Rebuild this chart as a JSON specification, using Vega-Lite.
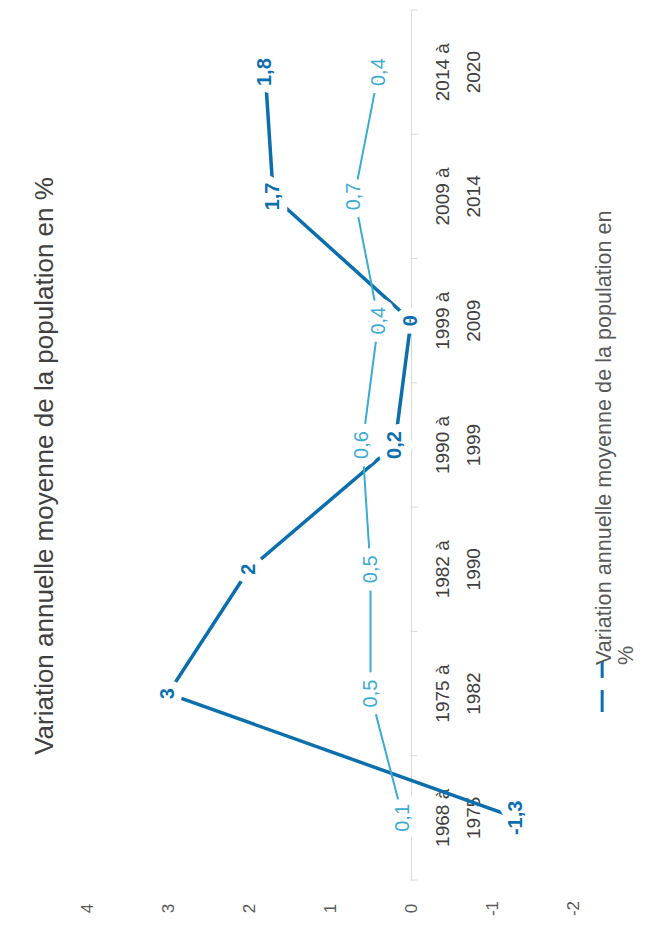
{
  "$schema": "https://vega.github.io/schema/vega-lite/v6.json",
  "autosize": {"type": "none"},
  "padding": {"left": 87, "top": 10, "right": 78, "bottom": 53},
  "width": 486,
  "height": 870,
  "background": "white",
  "config": {
    "view": {"stroke": null},
    "font": "Liberation Sans",
    "locale": {"number": {"decimal": ",", "thousands": " ", "grouping": [3], "currency": ["", " €"], "minus": "-"}},
    "axisX": {
      "orient": "bottom",
      "title": null,
      "domain": false,
      "ticks": false,
      "grid": false,
      "labelAngle": 270,
      "labelAlign": "center",
      "labelBaseline": "middle",
      "labelPadding": 28,
      "labelFontSize": 17,
      "labelColor": "#595959",
      "labelFlush": false,
      "labelOverlap": false
    },
    "axisY": {
      "orient": "right",
      "offset": -162,
      "title": null,
      "domain": true,
      "domainColor": "#d9d9d9",
      "domainWidth": 1,
      "ticks": false,
      "grid": false,
      "labelAngle": 270,
      "labelAlign": "center",
      "labelBaseline": "top",
      "labelPadding": 22,
      "labelFontSize": 19,
      "labelColor": "#404040",
      "labelLineHeight": 31,
      "labelOverlap": false
    }
  },
  "title": {
    "text": "Variation annuelle moyenne de la population en %",
    "orient": "left",
    "anchor": "middle",
    "offset": 20,
    "dx": -21,
    "fontSize": 26,
    "fontWeight": "normal",
    "color": "#404040"
  },
  "datasets": {
    "pop": [
      {"periode": "1968 à 1975", "serie": "Variation annuelle moyenne de la population en %", "valeur": -1.3},
      {"periode": "1975 à 1982", "serie": "Variation annuelle moyenne de la population en %", "valeur": 3},
      {"periode": "1982 à 1990", "serie": "Variation annuelle moyenne de la population en %", "valeur": 2},
      {"periode": "1990 à 1999", "serie": "Variation annuelle moyenne de la population en %", "valeur": 0.2},
      {"periode": "1999 à 2009", "serie": "Variation annuelle moyenne de la population en %", "valeur": 0},
      {"periode": "2009 à 2014", "serie": "Variation annuelle moyenne de la population en %", "valeur": 1.7},
      {"periode": "2014 à 2020", "serie": "Variation annuelle moyenne de la population en %", "valeur": 1.8},
      {"periode": "1968 à 1975", "serie": "Série 2", "valeur": 0.1},
      {"periode": "1975 à 1982", "serie": "Série 2", "valeur": 0.5},
      {"periode": "1982 à 1990", "serie": "Série 2", "valeur": 0.5},
      {"periode": "1990 à 1999", "serie": "Série 2", "valeur": 0.6},
      {"periode": "1999 à 2009", "serie": "Série 2", "valeur": 0.4},
      {"periode": "2009 à 2014", "serie": "Série 2", "valeur": 0.7},
      {"periode": "2014 à 2020", "serie": "Série 2", "valeur": 0.4}
    ],
    "legende": [
      {"texte": "Variation annuelle moyenne de la population en\n%", "periode": "1975 à 1982"}
    ]
  },
  "layer": [
    {
      "data": {"name": "pop"},
      "transform": [{"filter": "datum.serie === 'Série 2'"}],
      "encoding": {
        "x": {"datum": -0.037, "type": "quantitative", "axis": {"title": null, "values": [-2, -1, 0, 1, 2, 3, 4]}},
        "y": {
          "field": "periode",
          "type": "nominal",
          "sort": ["2014 à 2020", "2009 à 2014", "1999 à 2009", "1990 à 1999", "1982 à 1990", "1975 à 1982", "1968 à 1975"],
          "bandPosition": 0,
          "scale": {"type": "band", "paddingInner": 0, "paddingOuter": 0},
          "axis": {"title": null, "labelExpr": "[substring(datum.value, 0, 6), substring(datum.value, 7)]"}
        }
      },
      "layer": [
        {
          "mark": {"type": "point", "shape": "stroke", "size": 49, "filled": false, "strokeWidth": 1, "color": "#d9d9d9", "opacity": 1}
        },
        {
          "transform": [{"filter": "datum.periode === '1968 à 1975'"}],
          "mark": {"type": "point", "shape": "stroke", "size": 49, "filled": false, "strokeWidth": 1, "color": "#d9d9d9", "opacity": 1},
          "encoding": {
            "y": {
              "field": "periode",
              "type": "nominal",
              "sort": ["2014 à 2020", "2009 à 2014", "1999 à 2009", "1990 à 1999", "1982 à 1990", "1975 à 1982", "1968 à 1975"],
              "bandPosition": 1,
              "scale": {"type": "band", "paddingInner": 0, "paddingOuter": 0},
              "axis": {"title": null, "labelExpr": "[substring(datum.value, 0, 6), substring(datum.value, 7)]"}
            }
          }
        }
      ]
    },
    {
      "data": {"name": "pop"},
      "encoding": {
        "x": {
          "field": "valeur",
          "type": "quantitative",
          "scale": {"domain": [-2, 4], "reverse": true, "nice": false, "zero": false},
          "axis": {"title": null, "values": [-2, -1, 0, 1, 2, 3, 4]}
        },
        "y": {
          "field": "periode",
          "type": "nominal",
          "sort": ["2014 à 2020", "2009 à 2014", "1999 à 2009", "1990 à 1999", "1982 à 1990", "1975 à 1982", "1968 à 1975"],
          "bandPosition": 0.5,
          "scale": {"type": "band", "paddingInner": 0, "paddingOuter": 0},
          "axis": {"title": null, "labelExpr": "[substring(datum.value, 0, 6), substring(datum.value, 7)]"}
        }
      },
      "layer": [
        {
          "transform": [{"filter": "datum.serie !== 'Série 2'"}],
          "mark": {"type": "line", "color": "#0b6fae", "strokeWidth": 3.5}
        },
        {
          "transform": [{"filter": "datum.serie === 'Série 2'"}],
          "mark": {"type": "line", "color": "#3aabd2", "strokeWidth": 2}
        },
        {
          "mark": {"type": "text", "angle": 270, "fontSize": 20, "fontWeight": "bold", "fill": "white", "stroke": "white", "strokeWidth": 16, "strokeJoin": "round"},
          "encoding": {"text": {"field": "valeur", "type": "quantitative", "format": "~g"}}
        },
        {
          "transform": [{"filter": "datum.serie === 'Série 2'"}],
          "mark": {"type": "text", "angle": 270, "fontSize": 20, "color": "#3aabd2"},
          "encoding": {"text": {"field": "valeur", "type": "quantitative", "format": "~g"}}
        },
        {
          "transform": [{"filter": "datum.serie !== 'Série 2'"}],
          "mark": {"type": "text", "angle": 270, "fontSize": 20, "fontWeight": "bold", "color": "#0b6fae"},
          "encoding": {"text": {"field": "valeur", "type": "quantitative", "format": "~g"}}
        }
      ]
    },
    {
      "data": {"name": "legende"},
      "encoding": {
        "x": {"datum": -2.47, "type": "quantitative", "axis": {"title": null, "values": [-2, -1, 0, 1, 2, 3, 4]}},
        "y": {
          "field": "periode",
          "type": "nominal",
          "sort": ["2014 à 2020", "2009 à 2014", "1999 à 2009", "1990 à 1999", "1982 à 1990", "1975 à 1982", "1968 à 1975"],
          "bandPosition": 0.27,
          "scale": {"type": "band", "paddingInner": 0, "paddingOuter": 0},
          "axis": {"title": null, "labelExpr": "[substring(datum.value, 0, 6), substring(datum.value, 7)]"}
        }
      },
      "layer": [
        {
          "mark": {"type": "text", "angle": 270, "align": "left", "baseline": "alphabetic", "fontSize": 21.6, "lineHeight": 22, "lineBreak": "\n", "color": "#595959"},
          "encoding": {"text": {"field": "texte"}}
        },
        {
          "mark": {"type": "point", "shape": "stroke", "angle": 90, "size": 256, "filled": false, "strokeWidth": 3, "color": "#0b6fae", "opacity": 1},
          "encoding": {
            "x": {"datum": -2.36, "type": "quantitative", "axis": {"title": null, "values": [-2, -1, 0, 1, 2, 3, 4]}},
            "y": {
              "field": "periode",
              "type": "nominal",
              "sort": ["2014 à 2020", "2009 à 2014", "1999 à 2009", "1990 à 1999", "1982 à 1990", "1975 à 1982", "1968 à 1975"],
              "bandPosition": 0.31,
              "scale": {"type": "band", "paddingInner": 0, "paddingOuter": 0},
              "axis": {"title": null, "labelExpr": "[substring(datum.value, 0, 6), substring(datum.value, 7)]"}
            }
          }
        },
        {
          "mark": {"type": "point", "shape": "stroke", "angle": 90, "size": 484, "filled": false, "strokeWidth": 3, "color": "#0b6fae", "opacity": 1},
          "encoding": {
            "x": {"datum": -2.36, "type": "quantitative", "axis": {"title": null, "values": [-2, -1, 0, 1, 2, 3, 4]}},
            "y": {
              "field": "periode",
              "type": "nominal",
              "sort": ["2014 à 2020", "2009 à 2014", "1999 à 2009", "1990 à 1999", "1982 à 1990", "1975 à 1982", "1968 à 1975"],
              "bandPosition": 0.56,
              "scale": {"type": "band", "paddingInner": 0, "paddingOuter": 0},
              "axis": {"title": null, "labelExpr": "[substring(datum.value, 0, 6), substring(datum.value, 7)]"}
            }
          }
        }
      ]
    }
  ]
}
